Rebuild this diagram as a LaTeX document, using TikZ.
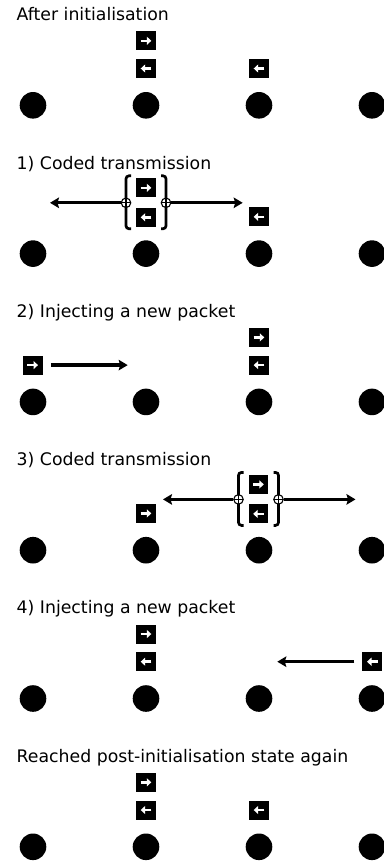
\documentclass[tikz,border=0pt]{standalone}
\usepackage{fontspec}
\setmainfont{DejaVu Sans}
\usetikzlibrary{arrows.meta}
\tikzset{
  dot/.style={circle, fill=black, minimum size=26.6pt, inner sep=0pt},
  pkt/.style={fill=black, minimum width=19.7pt, minimum height=19pt, inner sep=0pt},
  pktR/.style={pkt, path picture={\draw[white, line width=2.5pt, -{Triangle[length=4.5pt,width=8pt]}] ([xshift=-5.3pt]path picture bounding box.center) -- ([xshift=5.3pt]path picture bounding box.center);}},
  pktL/.style={pkt, path picture={\draw[white, line width=2.5pt, -{Triangle[length=4.5pt,width=8pt]}] ([xshift=5.3pt]path picture bounding box.center) -- ([xshift=-5.3pt]path picture bounding box.center);}},
  xo/.style={circle, draw=black, fill=white, line width=1.1pt, minimum size=9.5pt, inner sep=0pt,
    path picture={\draw[line width=1.1pt] (path picture bounding box.north) -- (path picture bounding box.south) (path picture bounding box.west) -- (path picture bounding box.east);}},
  flow/.style={line width=3.3pt, -{Stealth[length=9pt,width=10.5pt,inset=1.5pt]}},
  brk/.style={line width=2.7pt, rounded corners=3pt},
  ttl/.style={anchor=base west, inner sep=0pt, font=\fontsize{17.3}{20}\selectfont},
}
\begin{document}
\begin{tikzpicture}[x=1pt, y=-1pt]
\useasboundingbox (0,0) rectangle (383,865);

% ---------- section 0 ----------
\begin{scope}
  \node[ttl] (t0) at (16.5,20.7) {After initialisation};
  \foreach \i/\x in {1/33,2/146,3/259,4/372} \node[dot] (a\i) at (\x,105.3) {};
  \node[pktR] (a2u) at (146,40.8) {};
  \node[pktL] (a2l) at (146,68.5) {};
  \node[pktL] (a3l) at (259,68.5) {};
\end{scope}

% ---------- section 1 ----------
\begin{scope}[yshift=-148.3pt]
  \node[ttl] (t1) at (16.5,20.7) {1) Coded transmission};
  \foreach \i/\x in {1/33,2/146,3/259,4/372} \node[dot] (b\i) at (\x,105.3) {};
  \node[pktR] (b2u) at (146,39.5) {};
  \node[pktL] (b2l) at (146,69) {};
  \node[pktL] (b3l) at (259,68.5) {};
  \draw[brk] (131,27.5) -- (126,27.5) -- (126,80.5) -- (131,80.5);
  \draw[brk] (161,27.5) -- (166,27.5) -- (166,80.5) -- (161,80.5);
  \node[xo] (bxl) at (126,54.5) {};
  \node[xo] (bxr) at (166,54.5) {};
  \coordinate (btl) at (50,54.5);
  \coordinate (btr) at (242.7,54.5);
  \draw[flow] (bxl) -- (btl);
  \draw[flow] (bxr) -- (btr);
\end{scope}

% ---------- section 2 ----------
\begin{scope}[yshift=-296.6pt]
  \node[ttl] (t2) at (16.5,20.7) {2) Injecting a new packet};
  \foreach \i/\x in {1/33,2/146,3/259,4/372} \node[dot] (c\i) at (\x,105.3) {};
  \node[pktR] (c1l) at (32.7,68.5) {};
  \node[pktR] (c3u) at (259,40.8) {};
  \node[pktL] (c3l) at (259,68.5) {};
  \coordinate (ct) at (127.7,68.5);
  \draw[flow, shorten <=8pt] (c1l) -- (ct);
\end{scope}

% ---------- section 3 ----------
\begin{scope}[yshift=-444.9pt]
  \node[ttl] (t3) at (16.5,20.7) {3) Coded transmission};
  \foreach \i/\x in {1/33,2/146,3/259,4/372} \node[dot] (d\i) at (\x,105.3) {};
  \node[pktR] (d2l) at (146,68.5) {};
  \node[pktR] (d3u) at (258.5,39.5) {};
  \node[pktL] (d3l) at (258.5,69) {};
  \draw[brk] (243.5,27.5) -- (238.5,27.5) -- (238.5,80.5) -- (243.5,80.5);
  \draw[brk] (273.5,27.5) -- (278.5,27.5) -- (278.5,80.5) -- (273.5,80.5);
  \node[xo] (dxl) at (238.5,54.5) {};
  \node[xo] (dxr) at (278.5,54.5) {};
  \coordinate (dtl) at (163,54.5);
  \coordinate (dtr) at (355.5,54.5);
  \draw[flow] (dxl) -- (dtl);
  \draw[flow] (dxr) -- (dtr);
\end{scope}

% ---------- section 4 ----------
\begin{scope}[yshift=-593.2pt]
  \node[ttl] (t4) at (16.5,20.7) {4) Injecting a new packet};
  \foreach \i/\x in {1/33,2/146,3/259,4/372} \node[dot] (e\i) at (\x,105.3) {};
  \node[pktR] (e2u) at (146,40.8) {};
  \node[pktL] (e2l) at (146,68.5) {};
  \node[pktL] (e4l) at (372.3,68.5) {};
  \coordinate (et) at (277.3,68.5);
  \draw[flow, shorten <=8pt] (e4l) -- (et);
\end{scope}

% ---------- section 5 ----------
\begin{scope}[yshift=-741.5pt]
  \node[ttl] (t5) at (16.5,20.7) {Reached post-initialisation state again};
  \foreach \i/\x in {1/33,2/146,3/259,4/372} \node[dot] (f\i) at (\x,105.3) {};
  \node[pktR] (f2u) at (146,40.8) {};
  \node[pktL] (f2l) at (146,68.5) {};
  \node[pktL] (f3l) at (259,68.5) {};
\end{scope}
\end{tikzpicture}
\end{document}
